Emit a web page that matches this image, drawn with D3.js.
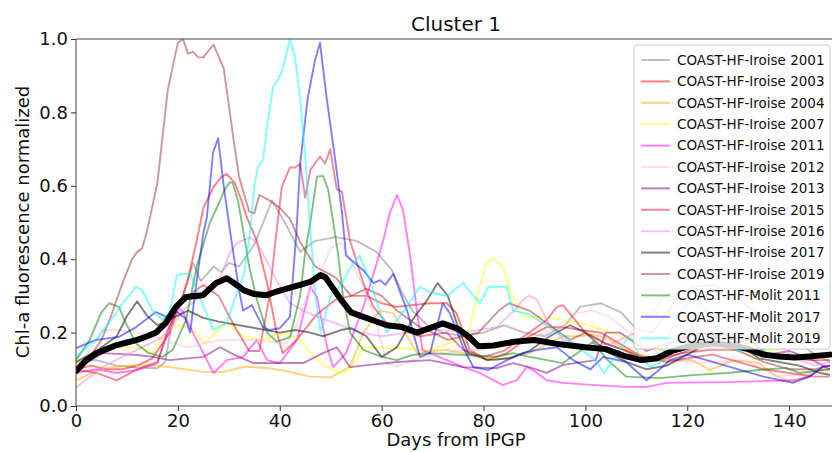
<!DOCTYPE html>
<html>
<head>
<meta charset="utf-8">
<script src="https://cdn.jsdelivr.net/npm/d3@7"></script>
<style>
  body { margin: 0; background: #fff; }
  text { font-family: "DejaVu Sans", sans-serif; fill: #111; }
</style>
</head>
<body>
<div class="cluster-graph"></div>
<script>
"use strict";

// [day, normalized value]
const iroise2001 = [[0,0.12],[4,0.125],[8,0.11],[12,0.105],[16,0.103],[17.5,0.12],[19,0.24],[21,0.3],[23,0.39],[24.5,0.34],[27,0.38],[28.5,0.365],[30,0.39],[32,0.38],[35,0.44],[38.5,0.56],[41,0.5],[44,0.42],[47,0.45],[51,0.46],[55,0.45],[59,0.42],[62,0.37],[64,0.31],[66,0.26],[69,0.22],[72,0.2],[76,0.19],[80,0.2],[84,0.22],[88,0.2],[92,0.19],[96,0.22],[99,0.27],[103,0.28],[107,0.255],[110,0.21],[113,0.2],[116,0.25],[118,0.3],[121,0.325],[125,0.33],[128,0.31],[132,0.27],[136,0.22],[140,0.2],[144,0.15],[148,0.12]];
const iroise2003 = [[0,0.1],[3,0.11],[6,0.1],[9,0.1],[12,0.11],[15,0.13],[18.4,0.2],[21.8,0.335],[23.7,0.45],[25,0.54],[27,0.597],[28.6,0.625],[29.6,0.632],[31.2,0.607],[32.5,0.56],[33.5,0.515],[35.5,0.45],[37.5,0.335],[39.4,0.2],[40.6,0.144],[43.3,0.18],[47.3,0.25],[51,0.29],[54,0.3],[57,0.3],[60,0.28],[63,0.27],[66,0.275],[69.5,0.28],[72.8,0.28],[74.7,0.253],[77.3,0.153],[80.6,0.125],[84.6,0.144],[89,0.19],[92.4,0.215],[95.6,0.215],[99,0.207],[103,0.2],[108,0.16],[111,0.134],[114.6,0.13],[119,0.144],[124.5,0.153],[131,0.153],[137.6,0.134],[144,0.125],[148,0.125]];
const iroise2004 = [[0,0.07],[5,0.103],[12,0.112],[18,0.107],[25,0.093],[29,0.093],[33,0.107],[38,0.103],[42,0.093],[46,0.08],[50,0.078],[53.8,0.107],[56.4,0.2],[59.7,0.26],[62.3,0.253],[65,0.19],[67,0.144],[70,0.15],[72.8,0.153],[76,0.144],[82.6,0.125],[89,0.144],[95.6,0.19],[99,0.19],[101.5,0.195],[104.8,0.18],[108,0.153],[114.6,0.125],[121,0.125],[124.4,0.098],[129,0.125],[134,0.117],[137.6,0.08],[140.7,0.065],[146,0.098],[148,0.1]];
const iroise2007 = [[0,0.117],[5.3,0.16],[12,0.16],[15,0.144],[18.4,0.215],[21,0.22],[23.7,0.2],[25,0.17],[29.6,0.226],[32.8,0.19],[36.7,0.18],[40.6,0.2],[44,0.18],[47,0.13],[49.3,0.107],[51.8,0.09],[53.8,0.098],[56.4,0.16],[63,0.158],[69.5,0.153],[72.8,0.17],[76,0.18],[77.3,0.215],[78.7,0.297],[80.6,0.39],[82,0.403],[83.8,0.38],[85.2,0.316],[86.5,0.27],[87.8,0.243],[92.4,0.243],[95.6,0.234],[99,0.226],[102,0.215],[105,0.2],[108.7,0.18],[112,0.16],[116,0.15],[120,0.17],[125,0.2],[130,0.18],[135,0.15],[140,0.16],[144,0.2],[148,0.22]];
const iroise2011 = [[0,0.09],[4,0.1],[8,0.09],[12,0.098],[16,0.117],[17.8,0.2],[19.8,0.27],[21,0.257],[22.4,0.215],[25,0.144],[27,0.09],[29.6,0.125],[32.8,0.134],[35.5,0.18],[37.5,0.125],[40,0.117],[43.4,0.18],[46,0.325],[47.3,0.297],[49.3,0.16],[50.5,0.106],[53,0.144],[56.4,0.27],[58.4,0.36],[60.3,0.45],[61.6,0.525],[63,0.575],[64.2,0.534],[65.6,0.41],[67,0.25],[68,0.153],[72.8,0.125],[76,0.106],[79.3,0.09],[83.8,0.057],[86.5,0.07],[88.5,0.106],[89.7,0.098],[92.4,0.07],[95.6,0.063],[102,0.057],[108,0.052],[112,0.052],[116,0.063],[127.8,0.065],[140.7,0.07],[144,0.08],[146.6,0.107],[148,0.11]];
const iroise2012 = [[0,0.1],[3,0.16],[5.3,0.207],[8.6,0.207],[12,0.2],[15,0.19],[21.8,0.16],[28.3,0.18],[34.8,0.18],[41.4,0.17],[44,0.243],[45.3,0.3],[47.3,0.343],[50,0.43],[52,0.444],[53.8,0.4],[56.4,0.325],[58.4,0.253],[61,0.117],[63,0.107],[66,0.125],[70,0.14],[75,0.15],[79.3,0.153],[85,0.17],[90,0.19],[95.6,0.215],[98,0.253],[101.5,0.26],[104.8,0.243],[108,0.207],[112.7,0.17],[114.6,0.134],[121,0.117],[126,0.12],[131,0.125],[137.6,0.08],[142,0.085],[147,0.098]];
const iroise2013 = [[0,0.1],[5.3,0.144],[12,0.139],[15,0.134],[18.4,0.125],[25,0.134],[28.3,0.16],[31,0.14],[34.8,0.117],[38,0.117],[44.6,0.117],[48.5,0.144],[51.2,0.16],[53.8,0.106],[57.7,0.112],[63,0.12],[69.5,0.125],[76,0.106],[82.6,0.103],[85.8,0.117],[89,0.106],[92.4,0.09],[95.6,0.112],[102,0.125],[104,0.2],[106.8,0.2],[109,0.18],[112,0.15],[116,0.17],[120,0.19],[124,0.2],[128,0.17],[132,0.18],[136,0.14],[140,0.15],[144,0.13],[148,0.1]];
const iroise2015 = [[0,0.1],[4,0.09],[8,0.07],[12,0.1],[16,0.12],[18,0.2],[20,0.27],[22,0.3],[25,0.33],[28,0.3],[31,0.22],[34,0.15],[36,0.15],[38,0.3],[39.4,0.48],[40.4,0.597],[42,0.65],[43,0.65],[44,0.66],[45,0.567],[46,0.643],[47.9,0.68],[48.9,0.66],[49.9,0.7],[51.2,0.59],[52.2,0.585],[53.8,0.45],[56.4,0.335],[58.4,0.27],[61.6,0.215],[63,0.215],[67.5,0.19],[72.8,0.2],[76,0.153],[80,0.134],[84,0.15],[89,0.2],[92.4,0.234],[94.4,0.27],[95.6,0.275],[98,0.234],[100,0.2],[104,0.17],[108,0.15],[112,0.13],[116,0.12],[120,0.13],[125,0.14],[130,0.12],[135,0.1],[140,0.09],[145,0.08],[148,0.08]];
const iroise2016 = [[0,0.05],[5.3,0.107],[10,0.14],[16,0.18],[18.4,0.207],[21,0.26],[23.7,0.29],[26.3,0.316],[28.3,0.35],[30.2,0.417],[31.6,0.444],[34.2,0.46],[36,0.433],[39.4,0.343],[42,0.28],[44.6,0.26],[48,0.24],[52,0.22],[56,0.2],[60,0.19],[65,0.2],[70,0.21],[76,0.2],[82.6,0.215],[86,0.26],[87.8,0.29],[89,0.3],[90.5,0.29],[92.4,0.234],[95.6,0.18],[100,0.16],[105,0.17],[110,0.2],[113,0.25],[116,0.31],[119,0.28],[123,0.2],[128,0.17],[133,0.22],[137,0.18],[141,0.13],[145,0.11],[148,0.12]];
const iroise2017 = [[0,0.12],[4,0.15],[8,0.19],[10,0.245],[12,0.285],[14,0.245],[16,0.22],[19,0.24],[22,0.26],[25,0.24],[28,0.23],[32,0.22],[36,0.21],[40,0.2],[43,0.207],[46,0.2],[48.5,0.19],[52,0.207],[54,0.212],[57,0.19],[60,0.134],[63,0.16],[66,0.234],[69,0.29],[71,0.335],[73,0.3],[75,0.215],[77,0.144],[81,0.125],[85,0.13],[89,0.15],[93,0.19],[97,0.22],[100,0.2],[104,0.15],[108,0.12],[112,0.1],[116,0.11],[120,0.14],[124,0.17],[127,0.2],[130,0.17],[134,0.13],[138,0.12],[142,0.11],[146,0.09],[148,0.085]];
const iroise2019 = [[0,0.1],[3,0.14],[5,0.18],[7,0.25],[9,0.33],[11,0.4],[12,0.42],[13,0.43],[14,0.48],[16,0.61],[18,0.86],[20,0.99],[21,1.0],[22,0.96],[23,0.965],[24,0.95],[25,0.95],[27,0.985],[29,0.92],[31,0.72],[32,0.625],[34,0.53],[35,0.525],[36,0.575],[38,0.56],[40,0.54],[42,0.51],[44,0.447],[47,0.38],[51,0.35],[54,0.3],[57,0.32],[60,0.3],[63,0.26],[67,0.22],[70,0.2],[73,0.18],[76,0.19],[79,0.2],[83,0.26],[85,0.28],[89,0.26],[93,0.22],[97,0.18],[100,0.2],[104,0.17],[108,0.15],[112,0.12],[116,0.13],[120,0.15],[125,0.17],[130,0.15],[135,0.12],[140,0.1],[145,0.1],[148,0.11]];
const molit2011 = [[0,0.125],[2.7,0.18],[4.9,0.253],[6.5,0.28],[8.4,0.27],[9.8,0.226],[11.8,0.17],[14.3,0.144],[17,0.134],[19,0.153],[21.6,0.234],[23.7,0.38],[26.3,0.5],[28.3,0.56],[29.2,0.59],[30.2,0.61],[30.8,0.607],[31.8,0.56],[32.8,0.48],[34,0.38],[35.5,0.29],[37.5,0.2],[39.4,0.175],[42,0.188],[44,0.3],[45,0.42],[46,0.5],[47.3,0.625],[48.5,0.627],[49.5,0.59],[50.5,0.5],[51.5,0.41],[52.4,0.3],[53.8,0.2],[56.4,0.153],[60,0.134],[63,0.125],[66,0.139],[69.5,0.144],[76,0.139],[82.6,0.134],[85.8,0.144],[89,0.134],[95.6,0.117],[99,0.15],[101.5,0.175],[104,0.13],[108,0.08],[114.6,0.076],[121,0.084],[127.8,0.09],[134,0.098],[139.5,0.104],[142,0.09],[146.6,0.098],[148,0.1]];
const molit2017 = [[0,0.158],[3.9,0.18],[6.5,0.185],[8.4,0.188],[11.8,0.215],[15.7,0.256],[17.8,0.243],[19.8,0.257],[21.4,0.24],[22.4,0.2],[23.7,0.343],[25,0.47],[25.7,0.515],[26.9,0.69],[27.9,0.73],[29,0.6],[30.2,0.48],[32,0.316],[32.8,0.26],[34.5,0.275],[36.7,0.215],[38,0.207],[40,0.212],[42,0.243],[43.3,0.48],[44,0.66],[45.5,0.84],[46.9,0.94],[47.9,0.99],[49.2,0.84],[50.8,0.68],[52.2,0.53],[53,0.41],[56.4,0.37],[58.4,0.335],[59.7,0.343],[60.7,0.33],[62.3,0.36],[65,0.26],[67.5,0.134],[69.5,0.144],[72,0.28],[73.4,0.253],[76,0.16],[78,0.106],[81,0.098],[84.6,0.125],[87.8,0.144],[90.5,0.153],[94.4,0.16],[97.6,0.125],[101,0.1],[103.5,0.134],[108,0.12],[112,0.07],[114.6,0.1],[116.6,0.125],[120,0.14],[125,0.12],[130,0.1],[135,0.08],[140.7,0.063],[144,0.08],[146.6,0.107],[148,0.11]];
const molit2019 = [[0,0.135],[3.9,0.18],[6.5,0.226],[9.2,0.28],[11.8,0.325],[13,0.316],[15,0.26],[17,0.234],[18.5,0.26],[19.8,0.357],[22.4,0.362],[23.7,0.316],[27,0.207],[29.6,0.226],[31.6,0.31],[33,0.36],[34.2,0.48],[35,0.6],[35.7,0.65],[36.7,0.67],[37.7,0.78],[38.7,0.87],[39.7,0.89],[40.6,0.92],[42,1.0],[43,0.95],[44,0.84],[45,0.68],[46,0.48],[47,0.3],[48,0.2],[50,0.3],[52,0.33],[54,0.38],[55.7,0.41],[57.7,0.34],[61,0.2],[65,0.27],[67.5,0.325],[69.5,0.31],[72.8,0.3],[76,0.335],[79.3,0.28],[81,0.325],[84.6,0.325],[85.8,0.26],[89,0.25],[95.6,0.19],[102,0.125],[103.7,0.09],[108,0.18],[109,0.185],[110.7,0.134],[112.7,0.107],[114.6,0.117],[118,0.25],[122,0.3],[126,0.2],[130,0.15],[135,0.15],[140,0.2],[145,0.3],[148,0.33]];
const clusterMean = [[0,0.095],[2,0.125],[4,0.144],[6,0.155],[8,0.166],[10,0.173],[12,0.18],[14,0.19],[15.7,0.2],[17.6,0.226],[19.6,0.27],[21.6,0.297],[24.9,0.302],[27.5,0.335],[29.6,0.348],[31,0.335],[33,0.315],[35,0.305],[37.4,0.302],[39,0.31],[41.4,0.32],[44,0.33],[46,0.338],[48,0.357],[49,0.35],[50,0.33],[52,0.29],[54,0.255],[56,0.245],[58,0.235],[61,0.22],[64,0.215],[67,0.2],[70,0.215],[72,0.225],[75,0.21],[77,0.19],[79,0.163],[82,0.165],[86,0.175],[90,0.18],[95,0.168],[100,0.16],[104,0.155],[108,0.135],[111,0.125],[114,0.13],[117,0.15],[121,0.165],[125,0.17],[129,0.165],[132,0.155],[135,0.14],[138,0.135],[141,0.132],[144,0.135],[148,0.14]];

const seriesNames = [
  "COAST-HF-Iroise 2001", "COAST-HF-Iroise 2003", "COAST-HF-Iroise 2004",
  "COAST-HF-Iroise 2007", "COAST-HF-Iroise 2011", "COAST-HF-Iroise 2012",
  "COAST-HF-Iroise 2013", "COAST-HF-Iroise 2015", "COAST-HF-Iroise 2016",
  "COAST-HF-Iroise 2017", "COAST-HF-Iroise 2019", "COAST-HF-Molit 2011",
  "COAST-HF-Molit 2017", "COAST-HF-Molit 2019",
];
const seriesValues = [
  iroise2001, iroise2003, iroise2004, iroise2007, iroise2011, iroise2012,
  iroise2013, iroise2015, iroise2016, iroise2017, iroise2019,
  molit2011, molit2017, molit2019,
];
const xTicks = [0, 20, 40, 60, 80, 100, 120, 140];
const yTicks = [0, 0.2, 0.4, 0.6, 0.8, 1.0];

const colorMap = {
  "COAST-HF-Iroise 2001": "grey",
  "COAST-HF-Iroise 2003": "red",
  "COAST-HF-Iroise 2004": "orange",
  "COAST-HF-Iroise 2007": "yellow",
  "COAST-HF-Iroise 2011": "magenta",
  "COAST-HF-Iroise 2012": "pink",
  "COAST-HF-Iroise 2013": "purple",
  "COAST-HF-Iroise 2015": "crimson",
  "COAST-HF-Iroise 2016": "violet",
  "COAST-HF-Iroise 2017": "black",
  "COAST-HF-Iroise 2019": "brown",
  "COAST-HF-Molit 2011": "green",
  "COAST-HF-Molit 2017": "blue",
  "COAST-HF-Molit 2019": "cyan",
};

const margin = { top: 39, right: -4, bottom: 46, left: 76 };
const width = 832 - margin.left - margin.right;
const height = 452 - margin.top - margin.bottom;

const svg = d3
  .select(".cluster-graph")
  .append("svg")
  .attr("width", 832)
  .attr("height", 452)
  .append("g")
  .attr("transform", "translate(" + margin.left + "," + margin.top + ")");

const x = d3.scaleLinear().domain([0, 149.2]).range([0, width]);
const y = d3.scaleLinear().domain([0, 1]).range([height, 0]);

svg
  .append("clipPath")
  .attr("id", "plot-clip")
  .append("rect")
  .attr("width", width)
  .attr("height", height);

const line = d3
  .line()
  .x((d) => x(d[0]))
  .y((d) => y(d[1]));

const plot = svg.append("g").attr("clip-path", "url(#plot-clip)");

seriesValues.forEach((values, i) => {
  plot
    .append("path")
    .datum(values)
    .attr("fill", "none")
    .attr("stroke", colorMap[seriesNames[i]])
    .attr("stroke-opacity", 0.5)
    .attr("stroke-width", 1.9)
    .attr("stroke-linejoin", "round")
    .attr("d", line);
});

plot
  .append("path")
  .datum(clusterMean)
  .attr("fill", "none")
  .attr("stroke", "black")
  .attr("stroke-width", 6)
  .attr("stroke-linejoin", "round")
  .attr("stroke-linecap", "round")
  .attr("d", line);

// axes
const xAxis = d3.axisBottom(x).tickValues(xTicks).tickSize(5).tickPadding(3).tickFormat(d3.format("d"));
const yAxis = d3.axisLeft(y).tickValues(yTicks).tickSize(5).tickPadding(3).tickFormat(d3.format(".1f"));

const xGroup = svg.append("g").attr("transform", `translate(0, ${height})`).call(xAxis);
const yGroup = svg.append("g").call(yAxis);

[xGroup, yGroup].forEach((g) => {
  g.select(".domain").remove();
  g.selectAll(".tick line").attr("stroke", "#333");
  g.selectAll(".tick text")
    .attr("font-family", "DejaVu Sans")
    .attr("font-size", "18px")
    .attr("fill", "#111");
});

// spines
svg.append("line").attr("x1", 0).attr("x2", width).attr("y1", 0).attr("y2", 0).attr("stroke", "#444");
svg.append("line").attr("x1", 0).attr("x2", width).attr("y1", height).attr("y2", height).attr("stroke", "#444");
svg.append("line").attr("x1", 0).attr("x2", 0).attr("y1", 0).attr("y2", height).attr("stroke", "#444");

// labels
svg
  .append("text")
  .attr("x", 456 - margin.left)
  .attr("y", -8)
  .attr("text-anchor", "middle")
  .attr("font-size", "20px")
  .text("Cluster 1");

svg
  .append("text")
  .attr("x", 456 - margin.left)
  .attr("y", height + 40)
  .attr("text-anchor", "middle")
  .attr("font-size", "18px")
  .text("Days from IPGP");

svg
  .append("text")
  .attr("transform", `translate(${29 - margin.left}, ${222 - margin.top}) rotate(-90)`)
  .attr("text-anchor", "middle")
  .attr("font-size", "18px")
  .text("Chl-a fluorescence normalized");

// legend
const legend = svg.append("g").attr("transform", `translate(${634 - margin.left}, ${45 - margin.top})`);

legend
  .append("rect")
  .attr("width", 196)
  .attr("height", 304)
  .attr("rx", 3)
  .attr("fill", "white")
  .attr("fill-opacity", 0.8)
  .attr("stroke", "#cccccc");

seriesNames.forEach((name, i) => {
  const row = legend.append("g").attr("transform", `translate(0, ${15 + i * 21.4})`);
  row
    .append("line")
    .attr("x1", 7)
    .attr("x2", 36)
    .attr("stroke", colorMap[name])
    .attr("stroke-opacity", 0.5)
    .attr("stroke-width", 2);
  row
    .append("text")
    .attr("x", 43)
    .attr("dy", "0.35em")
    .attr("font-size", "13.5px")
    .attr("fill", "#1a1a1a")
    .text(name);
});
</script>
</body>
</html>
